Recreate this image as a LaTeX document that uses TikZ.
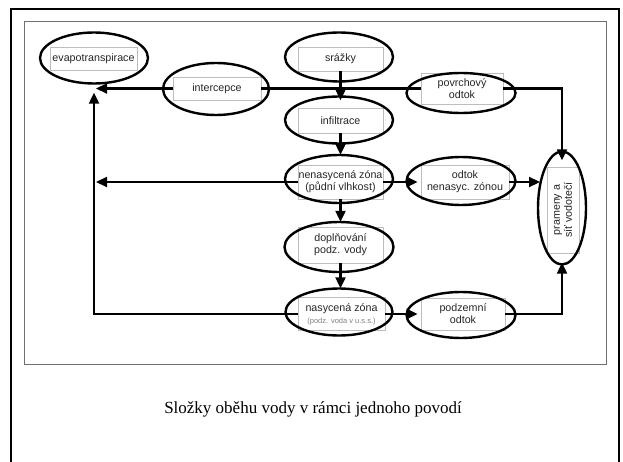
\documentclass[tikz,border=0pt]{standalone}
\usepackage{fontspec}
\setmainfont{Liberation Serif}
\newfontfamily\labfont{Liberation Sans}
\usetikzlibrary{arrows.meta,shapes.geometric}
\definecolor{boxgray}{HTML}{BDBDBD}
\definecolor{framegray}{HTML}{707070}
\begin{document}
\begin{tikzpicture}[x=1pt,y=-1pt,
  box/.style={draw=boxgray,fill=white,line width=0.7pt,inner sep=0pt,align=center,
    text=black!85,font=\labfont\fontsize{10.7}{12}\selectfont},
  ell/.style={draw,ellipse,line width=2.4pt,inner sep=0pt},
  con/.style={line width=2.2pt},
  arr/.style={con,-{Triangle[length=11pt,width=10pt]}}]
\useasboundingbox (0,0) rectangle (623,462);
% frames
\draw[line width=2.5pt] (11,464) -- (11,9) -- (619,9) -- (619,464);
\draw[framegray,line width=1pt] (24,22) rectangle (606,364);
% boxes
\node[box,minimum width=87pt,minimum height=23pt] (b-evap) at (93.5,58.5) {evapotranspirace};
\node[box,minimum width=88pt,minimum height=23pt] (b-interc) at (217,88.5) {intercepce};
\node[box,minimum width=85pt,minimum height=24pt] (b-srazky) at (340.5,59) {srážky};
\node[box,minimum width=82pt,minimum height=31pt] (b-povr) at (462,88.5) {povrchový\\odtok};
\node[box,minimum width=85pt,minimum height=25pt] (b-infil) at (340.5,120.5) {infiltrace};
\node[box,minimum width=85pt,minimum height=34pt] (b-nenas) at (340.5,182) {nenasycená zóna\\(půdní vlhkost)};
\node[box,minimum width=88pt,minimum height=34pt] (b-odtok) at (465,182) {odtok\\nenasyc. zónou};
\node[box,rotate=90,minimum width=86pt,minimum height=32pt] (b-pram) at (563,210) {prameny a\\síť vodotečí};
\node[box,minimum width=85pt,minimum height=36pt] (b-dopl) at (340.5,245) {doplňování\\podz. vody};
\node[box,minimum width=87pt,minimum height=33pt] (b-nas) at (341.5,314) {nasycená zóna\\{\color{gray}\fontsize{7.5}{9}\selectfont(podz. voda v u.s.s.)}};
\node[box,minimum width=84pt,minimum height=32pt] (b-podz) at (463,314) {podzemní\\odtok};
% ellipses
\node[ell,minimum width=108pt,minimum height=51pt] (e-evap) at (94,58) {};
\node[ell,minimum width=106pt,minimum height=52pt] (e-interc) at (216,89) {};
\node[ell,minimum width=108pt,minimum height=49pt] (e-srazky) at (339,57) {};
\node[ell,minimum width=109pt,minimum height=40pt] (e-povr) at (461,93) {};
\node[ell,minimum width=108pt,minimum height=47pt] (e-infil) at (339,120) {};
\node[ell,minimum width=108pt,minimum height=48pt] (e-nenas) at (339,179) {};
\node[ell,minimum width=109pt,minimum height=48pt] (e-odtok) at (461,181) {};
\node[ell,minimum width=48pt,minimum height=113pt] (e-pram) at (562,208) {};
\node[ell,minimum width=109pt,minimum height=50pt] (e-dopl) at (339,247) {};
\node[ell,minimum width=107pt,minimum height=47pt] (e-nas) at (339,312) {};
\node[ell,minimum width=109pt,minimum height=46pt] (e-podz) at (461,315) {};
% connectors
\draw[arr,shorten >=-5pt] (b-srazky.south) -- (e-infil.north -| b-srazky.south);
\draw[arr,shorten >=-1pt] (b-infil.south) -- (e-nenas.north -| b-infil.south);
\draw[arr,shorten >=-1pt] (b-nenas.south) -- (e-dopl.north -| b-nenas.south);
\draw[arr,shorten >=-1pt] (b-dopl.south) -- (e-nas.north -| b-dopl.south);
\draw[arr] (b-nenas.east) -- ([xshift=-3pt]b-odtok.west);
\draw[arr] (b-nas.east) -- ([xshift=-3pt]b-podz.west);
\draw[arr] (b-odtok.east) -- ([xshift=-22pt]e-pram.center |- b-odtok.east);
\draw[con] (b-interc.east) -- (b-povr.west);
\draw[arr] (b-povr.east) -| ([yshift=-10pt]e-pram.north);
\draw[arr] (b-podz.east) -| ([yshift=3pt]e-pram.south);
\draw[arr,shorten >=2pt] (b-interc.west) -- (e-evap.south |- b-interc.west);
\draw[arr,shorten >=2pt] (b-nenas.west) -- (e-evap.south |- b-nenas.west);
\draw[arr] (b-nas.west) -| ([yshift=-8pt]e-evap.south);
% caption
\node[font=\fontsize{17}{20}\selectfont] (cap) at (313,409) {Složky oběhu vody v rámci jednoho povodí};
\end{tikzpicture}
\end{document}
